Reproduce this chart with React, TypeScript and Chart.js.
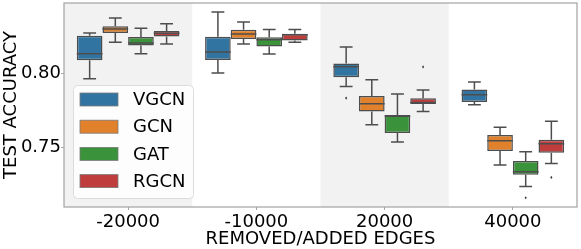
import React, { useEffect, useRef } from 'react';
import { Chart, registerables } from 'chart.js';
Chart.register(...registerables);

const categories = ['-20000', '-10000', '20000', '40000'];
const seriesNames = ['VGCN', 'GCN', 'GAT', 'RGCN'];
const seriesColors = ['#3274a1', '#e1812c', '#3a923a', '#c03d3e'];
// [lowWhisker, q1, median, q3, highWhisker] per category
const vgcnStats = [[0.7966, 0.8091, 0.8136, 0.8259, 0.8278], [0.8005, 0.8093, 0.8148, 0.8252, 0.8421], [0.7913, 0.7975, 0.8048, 0.8070, 0.8182], [0.7789, 0.7807, 0.7857, 0.7893, 0.7943]];
const gcnStats = [[0.8214, 0.8278, 0.8305, 0.8323, 0.8380], [0.8203, 0.8237, 0.8271, 0.8300, 0.8353], [0.7652, 0.7743, 0.7795, 0.7848, 0.7959], [0.7377, 0.7473, 0.7543, 0.7582, 0.7634]];
const gatStats = [[0.8136, 0.8193, 0.8209, 0.8250, 0.8309], [0.8134, 0.8186, 0.8232, 0.8248, 0.8302], [0.7534, 0.7595, 0.7709, 0.7718, 0.7861], [0.7231, 0.7311, 0.7332, 0.7404, 0.7468]];
const rgcnStats = [[0.8203, 0.8254, 0.8275, 0.8291, 0.8341], [0.8214, 0.8227, 0.8266, 0.8273, 0.8302], [0.7743, 0.7793, 0.7804, 0.7832, 0.7889], [0.7388, 0.7461, 0.7523, 0.7550, 0.7675]];
const vgcnOutliers = [[], [], [0.7834], []];
const gcnOutliers = [[], [], [], []];
const gatOutliers = [[], [], [], [0.7154]];
const rgcnOutliers = [[], [], [0.8046], [0.7293]];
const yTicks = [0.75, 0.8];
const yMin = 0.7091;
const yMax = 0.8482;

const allStats = [vgcnStats, gcnStats, gatStats, rgcnStats];
const allOutliers = [vgcnOutliers, gcnOutliers, gatOutliers, rgcnOutliers];

const FONT = "'DejaVu Sans', sans-serif";
const LINE = '#4d4d4d';

const bandPlugin = {
  id: 'bands',
  beforeDatasetsDraw(chart: any) {
    const { ctx, chartArea } = chart;
    const xs = chart.scales.x;
    const step = xs.getPixelForValue(1) - xs.getPixelForValue(0);
    ctx.save();
    ctx.fillStyle = '#f2f2f2';
    categories.forEach((_, i) => {
      if (i % 2 === 0) {
        const c = xs.getPixelForValue(i);
        ctx.fillRect(c - step / 2, chartArea.top, step, chartArea.bottom - chartArea.top);
      }
    });
    ctx.restore();
  },
};

const boxPlugin = {
  id: 'boxes',
  afterDatasetsDraw(chart: any) {
    const { ctx, chartArea } = chart;
    const ys = chart.scales.y;
    ctx.save();
    chart.data.datasets.forEach((ds: any, di: number) => {
      const meta = chart.getDatasetMeta(di);
      meta.data.forEach((el: any, i: number) => {
        const s = ds.stats[i];
        const x = el.x;
        const w = el.width;
        const py = (v: number) => ys.getPixelForValue(v);
        ctx.strokeStyle = LINE;
        ctx.lineWidth = 1.5;
        ctx.beginPath();
        ctx.moveTo(x, py(s[0]));
        ctx.lineTo(x, py(s[1]));
        ctx.moveTo(x, py(s[3]));
        ctx.lineTo(x, py(s[4]));
        ctx.moveTo(x - w / 4, py(s[0]));
        ctx.lineTo(x + w / 4, py(s[0]));
        ctx.moveTo(x - w / 4, py(s[4]));
        ctx.lineTo(x + w / 4, py(s[4]));
        ctx.moveTo(x - w / 2, py(s[2]));
        ctx.lineTo(x + w / 2, py(s[2]));
        ctx.stroke();
        ctx.fillStyle = '#3d3d3d';
        ds.outliers[i].forEach((v: number) => {
          const oy = py(v);
          ctx.beginPath();
          ctx.moveTo(x, oy - 1.6);
          ctx.lineTo(x + 1.1, oy);
          ctx.lineTo(x, oy + 1.6);
          ctx.lineTo(x - 1.1, oy);
          ctx.closePath();
          ctx.fill();
        });
      });
    });
    ctx.strokeStyle = '#a6a6a6';
    ctx.lineWidth = 1.25;
    ctx.strokeRect(chartArea.left, chartArea.top, chartArea.right - chartArea.left, chartArea.bottom - chartArea.top);
    ctx.restore();
  },
};

const legendPlugin = {
  id: 'boxLegend',
  afterDraw(chart: any) {
    const { ctx, chartArea } = chart;
    const lx = chartArea.left + 9;
    const ly = chartArea.top + 82;
    const lw = 120;
    const lh = 113;
    ctx.save();
    ctx.beginPath();
    (ctx as any).roundRect(lx + 0.5, ly + 0.5, lw, lh, 4);
    ctx.fillStyle = 'rgba(255,255,255,0.8)';
    ctx.fill();
    ctx.strokeStyle = '#dcdcdc';
    ctx.lineWidth = 1;
    ctx.stroke();
    seriesNames.forEach((name, i) => {
      const cy = ly + 14.5 + i * 27.2;
      ctx.fillStyle = seriesColors[i];
      ctx.fillRect(lx + 7, cy - 6.5, 38, 13);
      ctx.strokeStyle = '#7a7a7a';
      ctx.lineWidth = 0.8;
      ctx.strokeRect(lx + 7, cy - 6.5, 38, 13);
      ctx.fillStyle = '#000';
      ctx.font = `18px ${FONT}`;
      ctx.textBaseline = 'middle';
      ctx.textAlign = 'left';
      ctx.fillText(name, lx + 60, cy + 1);
    });
    ctx.restore();
  },
};

export default function App() {
  const ref = useRef<HTMLCanvasElement>(null);
  useEffect(() => {
    if (!ref.current) return;
    const chart = new Chart(ref.current, {
      type: 'bar',
      data: {
        labels: categories,
        datasets: seriesNames.map((name, i) => ({
          label: name,
          data: allStats[i].map((s) => [s[1], s[3]]),
          stats: allStats[i],
          outliers: allOutliers[i],
          backgroundColor: seriesColors[i],
          borderColor: LINE,
          borderWidth: 1.5,
          borderSkipped: false,
          categoryPercentage: 0.8,
          barPercentage: 1.0,
        })) as any,
      },
      options: {
        responsive: false,
        animation: false,
        events: [],
        layout: { padding: { top: 3, right: 4, left: 0, bottom: 0 } },
        plugins: { legend: { display: false }, tooltip: { enabled: false } },
        scales: {
          x: {
            grid: { display: true, offset: false, drawOnChartArea: false, drawTicks: true, tickLength: 3, color: '#a6a6a6' },
            border: { display: false },
            ticks: { color: '#000', font: { family: FONT, size: 18 }, padding: 2 },
            title: { display: true, text: 'REMOVED/ADDED EDGES', color: '#000', font: { family: FONT, size: 18, lineHeight: 1.05 }, padding: { top: 0, bottom: 0 } },
            afterFit: (s: any) => { s.height = 42; s.paddingLeft = 0; s.paddingRight = 0; },
          },
          y: {
            min: yMin,
            max: yMax,
            grid: { display: true, drawOnChartArea: false, drawTicks: true, tickLength: 3, color: '#a6a6a6' },
            border: { display: false },
            afterBuildTicks: (axis: any) => { axis.ticks = yTicks.map((v) => ({ value: v })); },
            ticks: { color: '#000', font: { family: FONT, size: 18 }, padding: 0, callback: (v: any) => Number(v).toFixed(2) },
            title: { display: true, text: 'TEST ACCURACY', color: '#000', font: { family: FONT, size: 18 }, padding: { top: 1, bottom: 0 } },
            afterFit: (s: any) => { s.width = 64; s.paddingTop = 0; s.paddingBottom = 0; },
          },
        },
      },
      plugins: [bandPlugin, boxPlugin, legendPlugin],
    } as any);
    return () => chart.destroy();
  }, []);
  return (
    <div style={{ position: 'absolute', left: 0, top: 0, width: 581, height: 249, background: '#fff' }}>
      <canvas ref={ref} width={581} height={249} />
    </div>
  );
}
